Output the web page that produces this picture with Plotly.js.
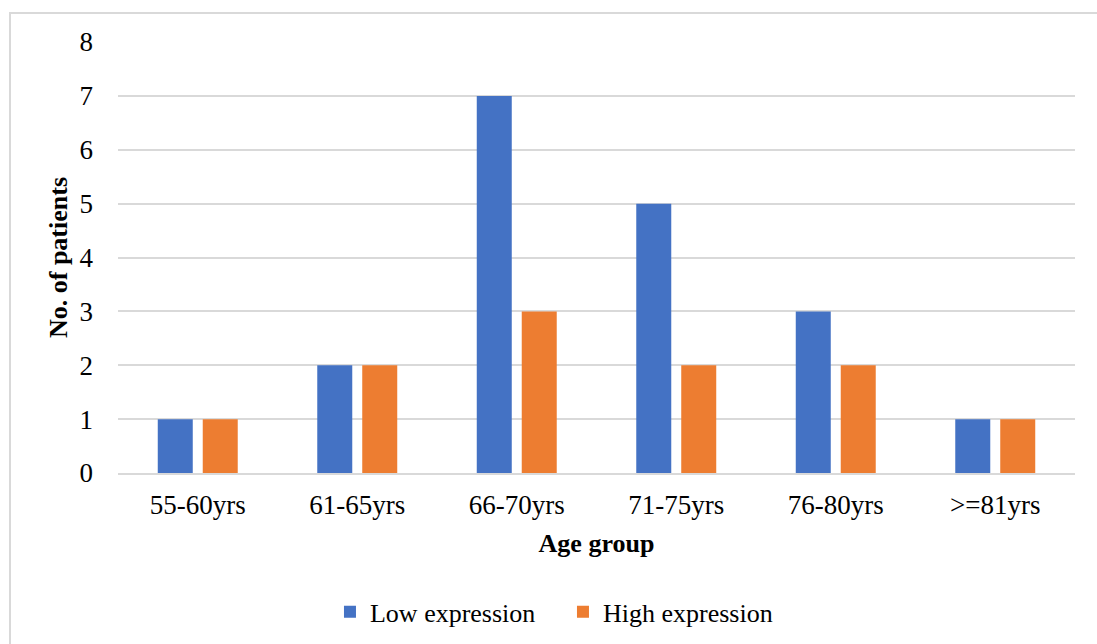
<!DOCTYPE html>
<html>
<head>
<meta charset="utf-8">
<script src="https://cdn.plot.ly/plotly-3.0.1.min.js"></script>
<style>
  html, body { margin: 0; padding: 0; background: #fff; overflow: hidden; }
  #frame { position: absolute; left: 9px; top: 12px; width: 1200px; height: 800px;
           border-left: 2px solid #d9d9d9; border-top: 2px solid #d9d9d9; }
  #chart { position: absolute; left: 0; top: 0; width: 1097px; height: 644px; }
</style>
</head>
<body>
<div id="frame"></div>
<div id="chart"></div>
<script>
const categories = ["55-60yrs", "61-65yrs", "66-70yrs", "71-75yrs", "76-80yrs", ">=81yrs"];
const lowExpression = [1, 2, 7, 5, 3, 1];
const highExpression = [1, 2, 3, 2, 2, 1];
const seriesNames = ["Low expression", "High expression"];
const yTicks = [0, 1, 2, 3, 4, 5, 6, 7, 8];

const font = "'Liberation Serif', 'Times New Roman', serif";

const data = [
  { type: "bar", x: categories, y: lowExpression, name: seriesNames[0],
    marker: { color: "#4472C4" }, hoverinfo: "none" },
  { type: "bar", x: categories, y: highExpression, name: seriesNames[1],
    marker: { color: "#ED7D31" }, hoverinfo: "none" }
];

const layout = {
  width: 1097, height: 644,
  paper_bgcolor: "rgba(0,0,0,0)", plot_bgcolor: "rgba(0,0,0,0)",
  margin: { l: 118, r: 22, t: 42, b: 171, autoexpand: false },
  font: { family: font, color: "#000", size: 27 },
  barmode: "group", bargap: 0.436, bargroupgap: 0.222,
  showlegend: true,
  legend: { orientation: "h", x: 0.2215, xanchor: "left",
            yref: "container", y: 0.05, yanchor: "middle",
            entrywidth: 188, entrywidthmode: "pixels",
            font: { size: 26, family: font, color: "#000" }, itemwidth: 30, traceorder: "normal" },
  xaxis: {
    type: "category", showgrid: false, zeroline: false,
    showline: true, linecolor: "#d9d9d9", linewidth: 2,
    ticks: "", ticklabelstandoff: 7,
    tickfont: { size: 27, family: font, color: "#000" },
    title: { text: "<b>Age group</b>", font: { size: 26, family: font, color: "#000" }, standoff: 14 }
  },
  yaxis: {
    range: [0, 8], tickvals: yTicks, ticktext: yTicks.map(String),
    showgrid: true, gridcolor: "#d9d9d9", gridwidth: 2,
    zeroline: false, showline: false, ticks: "", ticklabelstandoff: 24,
    tickfont: { size: 27, family: font, color: "#000" },
    title: { text: "<b>No. of patients</b>", font: { size: 26, family: font, color: "#000" }, standoff: 4 }
  }
};

Plotly.newPlot("chart", data, layout, { staticPlot: true, displayModeBar: false });
</script>
</body>
</html>
